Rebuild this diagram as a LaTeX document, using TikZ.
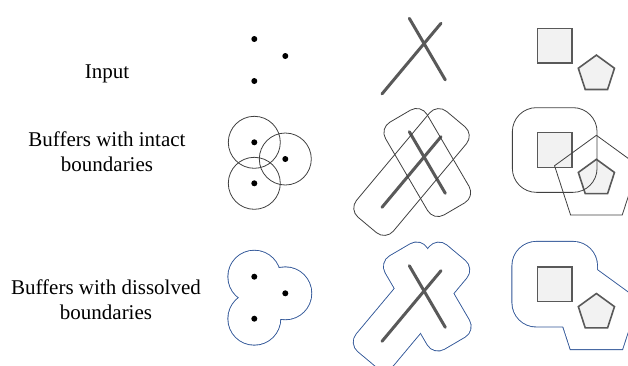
\documentclass[tikz,border=0pt]{standalone}
\usepackage{fontspec}
\setmainfont{Liberation Serif}
\usepackage{tikz}
\usetikzlibrary{shapes.geometric}
\definecolor{linegray}{RGB}{89, 89, 89}
\definecolor{shapefill}{RGB}{242, 242, 242}
\definecolor{bufgray}{RGB}{64, 64, 64}
\definecolor{bufblue}{RGB}{47, 85, 151}

\begin{document}
\begin{tikzpicture}[
    x=1pt, y=-1pt,
    rowtext/.style={align=center, inner sep=0pt, font=\fontsize{21}{25}\selectfont},
    dot/.style={circle, fill=black, inner sep=0pt, minimum size=6pt},
    xline/.style={draw=linegray, line width=3pt, line cap=round},
    sq/.style={rectangle, draw=linegray, fill=shapefill, line width=1.6pt, inner sep=0pt, minimum size=34.7pt},
    pent/.style={regular polygon, regular polygon sides=5, draw=linegray, fill=shapefill, line width=1.6pt, inner sep=0pt, minimum size=38pt},
    ring/.style={circle, inner sep=0pt, minimum size=52pt},
    bufA/.style={rectangle, rounded corners=12pt, inner sep=0pt, minimum width=107.4pt, minimum height=48pt, rotate=-59.7},
    bufB/.style={rectangle, rounded corners=12pt, inner sep=0pt, minimum width=138pt, minimum height=48pt, rotate=50.1},
    bufsq/.style={rectangle, rounded corners=24pt, inner sep=0pt, minimum size=84.7pt},
    bufpent/.style={regular polygon, regular polygon sides=5, inner sep=0pt, minimum size=88pt},
    intact/.style={draw=bufgray, line width=0.8pt},
    mergedraw/.style={draw=bufblue, line width=1.8pt},
    mergefill/.style={fill=white, draw=none}
]
    \useasboundingbox (0,0) rectangle (628,365);
    \clip (0,0) rectangle (628,365);

    % row labels
    \node[rowtext] (tinput) at (107,74) {Input};
    \node[rowtext] (tintact) at (107,152) {Buffers with intact\\boundaries};
    \node[rowtext] (tdissolved) at (106,300) {Buffers with dissolved\\boundaries};

    % points
    \node[dot] (p11) at (254.3,39) {};
    \node[dot] (p12) at (285.3,56) {};
    \node[dot] (p13) at (254.3,81) {};

    \node[ring, intact] (r21) at (254.3,142.3) {};
    \node[ring, intact] (r22) at (285.3,159) {};
    \node[ring, intact] (r23) at (254.3,183.3) {};
    \node[dot] (p21) at (r21) {};
    \node[dot] (p22) at (r22) {};
    \node[dot] (p23) at (r23) {};

    \node[ring, mergedraw] (r31) at (254.3,276.7) {};
    \node[ring, mergedraw] (r32) at (285.3,293.3) {};
    \node[ring, mergedraw] (r33) at (254.3,318.7) {};
    \node[ring, mergefill] (f31) at (r31) {};
    \node[ring, mergefill] (f32) at (r32) {};
    \node[ring, mergefill] (f33) at (r33) {};
    \node[dot] (p31) at (r31) {};
    \node[dot] (p32) at (r32) {};
    \node[dot] (p33) at (r33) {};

    % lines
    \coordinate (a1s) at (409.3,18.3);
    \coordinate (a1e) at (445.3,79.9);
    \coordinate (b1s) at (441,23.3);
    \coordinate (b1e) at (382,93.9);
    \draw[xline] (a1s) -- (a1e);
    \draw[xline] (b1s) -- (b1e);

    \coordinate (a2s) at (409.3,131.7);
    \coordinate (a2e) at (445.3,193.3);
    \coordinate (b2s) at (441,136.7);
    \coordinate (b2e) at (382,207.3);
    \draw[xline] (a2s) -- (a2e);
    \draw[xline] (b2s) -- (b2e);
    \node[bufA, intact] (ba2) at (427.3,162.5) {};
    \node[bufB, intact] (bb2) at (411.5,172.0) {};

    \node[bufA, mergedraw] (ba3) at (427.3,296.5) {};
    \node[bufB, mergedraw] (bb3) at (411.5,306.0) {};
    \node[bufA, mergefill] (fa3) at (ba3) {};
    \node[bufB, mergefill] (fb3) at (bb3) {};
    \coordinate (a3s) at (409.3,265.7);
    \coordinate (a3e) at (445.3,327.3);
    \coordinate (b3s) at (441,270.7);
    \coordinate (b3e) at (382,341.3);
    \draw[xline] (a3s) -- (a3e);
    \draw[xline] (b3s) -- (b3e);

    % polygons
    \node[sq] (s1) at (554.7,45.8) {};
    \node[pent] (g1) at (596.4,74.1) {};

    \node[sq] (s2) at (554.7,150) {};
    \node[pent] (g2) at (596.4,178.3) {};
    \node[bufsq, intact] (bs2) at (s2) {};
    \node[bufpent, intact] (bg2) at (596.4,179.3) {};

    \node[bufsq, mergedraw] (bs3) at (554.7,284.2) {};
    \node[bufpent, mergedraw] (bg3) at (596.4,313.5) {};
    \node[bufsq, mergefill] (fs3) at (bs3) {};
    \node[bufpent, mergefill] (fg3) at (bg3) {};
    \node[sq] (s3) at (554.7,284.2) {};
    \node[pent] (g3) at (596.4,312.5) {};
\end{tikzpicture}
\end{document}
